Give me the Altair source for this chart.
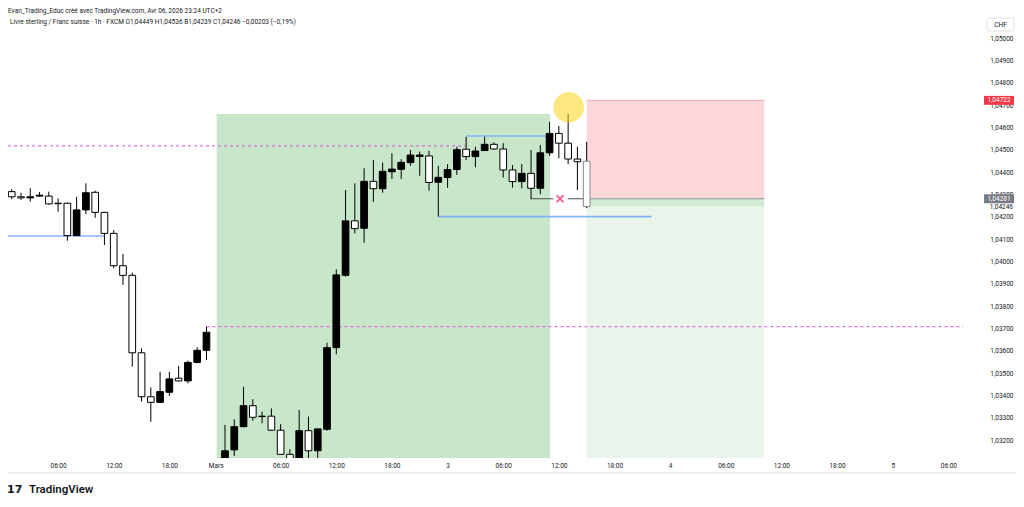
import json
import altair as alt
import pandas as pd

# ---------------- candle data (hourly bars; index 0 = first bar of "Mars") ----------------
bar_index = list(range(-22, 41))
open_prices = [
    1.04313, 1.04290, 1.04285, 1.04293, 1.04293, 1.04261, 1.04261, 1.04116, 1.04231, 1.04310,
    1.04220, 1.04126, 1.03981, 1.03938, 1.03591, 1.03394, 1.03369, 1.03414, 1.03477, 1.03465,
    1.03548, 1.03602,
    1.03050, 1.03030, 1.03156, 1.03260, 1.03354, 1.03305, 1.03307, 1.03244, 1.03136, 1.03090,
    1.03242, 1.03152, 1.03248, 1.03614, 1.03938, 1.04182, 1.04149, 1.04359, 1.04326, 1.04402,
    1.04413, 1.04443, 1.04471, 1.04473, 1.04355, 1.04376, 1.04412, 1.04503, 1.04470, 1.04497,
    1.04525, 1.04504, 1.04410, 1.04358, 1.04395, 1.04328, 1.04487, 1.04574, 1.04530, 1.04459,
    1.04449]
high_prices = [
    1.04324, 1.04308, 1.04328, 1.04311, 1.04313, 1.04283, 1.04264, 1.04290, 1.04350, 1.04317,
    1.04222, 1.04141, 1.04034, 1.03950, 1.03611, 1.03436, 1.03506, 1.03506, 1.03532, 1.03556,
    1.03616, 1.03708,
    1.03110, 1.03268, 1.03293, 1.03439, 1.03383, 1.03327, 1.03342, 1.03271, 1.03159, 1.03335,
    1.03305, 1.03252, 1.03636, 1.03965, 1.04320, 1.04350, 1.04418, 1.04455, 1.04443, 1.04485,
    1.04458, 1.04500, 1.04492, 1.04496, 1.04429, 1.04436, 1.04514, 1.04559, 1.04514, 1.04559,
    1.04534, 1.04530, 1.04432, 1.04436, 1.04500, 1.04522, 1.04626, 1.04607, 1.04661, 1.04514,
    1.04536]
low_prices = [
    1.04279, 1.04276, 1.04268, 1.04290, 1.04255, 1.04223, 1.04093, 1.04114, 1.04213, 1.04196,
    1.04074, 1.03970, 1.03895, 1.03529, 1.03372, 1.03282, 1.03366, 1.03398, 1.03463, 1.03454,
    1.03544, 1.03559,
    1.02990, 1.03010, 1.03129, 1.03257, 1.03287, 1.03275, 1.03242, 1.03134, 1.03060, 1.03070,
    1.03100, 1.03110, 1.03242, 1.03584, 1.03932, 1.04126, 1.04084, 1.04267, 1.04308, 1.04370,
    1.04370, 1.04429, 1.04384, 1.04317, 1.04201, 1.04330, 1.04388, 1.04455, 1.04422, 1.04495,
    1.04500, 1.04376, 1.04331, 1.04328, 1.04279, 1.04301, 1.04473, 1.04462, 1.04437, 1.04320,
    1.04239]
close_prices = [
    1.04290, 1.04285, 1.04290, 1.04297, 1.04258, 1.04259, 1.04116, 1.04231, 1.04308, 1.04220,
    1.04126, 1.03981, 1.03938, 1.03591, 1.03394, 1.03369, 1.03417, 1.03474, 1.03465, 1.03548,
    1.03602, 1.03683,
    1.03030, 1.03152, 1.03260, 1.03354, 1.03302, 1.03307, 1.03244, 1.03136, 1.03090, 1.03242,
    1.03152, 1.03250, 1.03614, 1.03940, 1.04182, 1.04147, 1.04359, 1.04326, 1.04404, 1.04414,
    1.04444, 1.04477, 1.04477, 1.04354, 1.04377, 1.04412, 1.04501, 1.04470, 1.04495, 1.04525,
    1.04504, 1.04410, 1.04358, 1.04395, 1.04328, 1.04487, 1.04574, 1.04530, 1.04459, 1.04447,
    1.04246]

# ---------------- axes ----------------
time_tick_index = [-17, -11, -5, 0, 7, 13, 19, 25, 31, 37, 43, 49, 55, 61, 67, 73, 79]
time_tick_label = ["06:00", "12:00", "18:00", "Mars", "06:00", "12:00", "18:00", "3",
                   "06:00", "12:00", "18:00", "4", "06:00", "12:00", "18:00", "5", "06:00"]
price_ticks = [1.032, 1.033, 1.034, 1.035, 1.036, 1.037, 1.038, 1.039, 1.040, 1.041,
               1.042, 1.043, 1.044, 1.045, 1.046, 1.047, 1.048, 1.049, 1.050]
x_domain = [-22.40, 80.58]
y_domain = [1.031196, 1.051178]

# ---------------- drawings ----------------
zone_x1 = [0.1, 40.0, 40.0, 40.0]
zone_x2 = [36.05, 59.15, 59.15, 59.15]
zone_top = [1.04661, 1.04722, 1.04281, 1.04246]
zone_bottom = [1.0290, 1.04281, 1.04246, 1.0290]
zone_color = ["#c8e6c9", "#fbd7da", "#d3ead4", "#e9f5ea"]

magenta_y = [1.04518, 1.03708]
magenta_x1 = [-22.4, -1.0]
magenta_x2 = [26.9, 80.6]

blue_y = [1.04114, 1.04562, 1.04201]
blue_x1 = [-22.4, 27.0, 24.0]
blue_x2 = [-12.0, 36.05, 47.0]

path_y = [1.04281, 1.04281]
path_x1 = [34.0, 37.95]
path_x2 = [36.4, 39.7]

box_line_y = [1.04281, 1.04722]
box_line_x1 = [40.0, 40.0]
box_line_x2 = [59.15, 59.15]
box_line_color = ["#9598a1", "#f5aab1"]

cross_x = [37.13]
cross_y = [1.04281]
circle_x = [38.06]
circle_y = [1.04691]

axis_tag_price = [1.04722, 1.04281]
axis_tag_color = ["#f23645", "#787b86"]
last_price = [1.04246]

header_text = "Evan_Trading_Educ créé avec TradingView.com, Avr 06, 2026 23:24 UTC+2"
legend_text = ("Livre sterling / Franc suisse · 1h · FXCM  O1,04449  H1,04536  "
               "B1,04239  C1,04246  −0,00203 (−0,19%)")

FONT = "Roboto"
TXT = "#131722"
FS = 6.5

XS = alt.Scale(domain=x_domain, nice=False, zero=False)
YS = alt.Scale(domain=y_domain, nice=False, zero=False)
label_expr_x = "{}[indexof({}, datum.value)]".format(json.dumps(time_tick_label), json.dumps(time_tick_index))
XA = alt.Axis(values=time_tick_index, labelExpr=label_expr_x, grid=False, domain=False,
              ticks=False, tickSize=0, labelPadding=4, labelFontSize=FS, labelColor=TXT,
              labelFont=FONT, labelFlush=False, labelOverlap=False, title=None)
YA = alt.Axis(orient="right", values=price_ticks,
              labelExpr="replace(format(datum.value, '.5f'), '.', ',')",
              grid=False, domain=False, ticks=False, tickSize=0, labelPadding=50,
              labelAlign="right", labelFontSize=FS, labelColor=TXT, labelFont=FONT,
              labelFlush=False, labelOverlap=False, title=None)


def X(f):
    return alt.X(f, type="quantitative", scale=XS, axis=XA, title=None)


def Y(f):
    return alt.Y(f, type="quantitative", scale=YS, axis=YA, title=None)


candles = pd.DataFrame({"i": bar_index, "o": open_prices, "h": high_prices,
                        "l": low_prices, "c": close_prices})
zones = pd.DataFrame({"x1": zone_x1, "x2": zone_x2, "y1": zone_top, "y2": zone_bottom,
                      "col": zone_color})

zone_layer = alt.Chart(zones).mark_rect(clip=True).encode(
    x=X("x1"), x2="x2", y=Y("y1"), y2="y2", fill=alt.Fill("col:N", scale=None))

box_lines = alt.Chart(pd.DataFrame({"x1": box_line_x1, "x2": box_line_x2, "y": box_line_y,
                                    "col": box_line_color})).mark_rule(strokeWidth=1, clip=True).encode(
    x=X("x1"), x2="x2", y=Y("y"), color=alt.Color("col:N", scale=None))

magenta = alt.Chart(pd.DataFrame({"x1": magenta_x1, "x2": magenta_x2, "y": magenta_y})).mark_rule(
    color="#e24fe0", strokeWidth=1, strokeDash=[3, 3], clip=True).encode(
    x=X("x1"), x2="x2", y=Y("y"))

blue = alt.Chart(pd.DataFrame({"x1": blue_x1, "x2": blue_x2, "y": blue_y})).mark_rule(
    color="#82b4f4", strokeWidth=1.6, clip=True).encode(x=X("x1"), x2="x2", y=Y("y"))

path = alt.Chart(pd.DataFrame({"x1": path_x1, "x2": path_x2, "y": path_y})).mark_rule(
    color="#4c4c4c", strokeWidth=1, clip=True).encode(x=X("x1"), x2="x2", y=Y("y"))

wicks = alt.Chart(candles).mark_rule(color="#000000", strokeWidth=1, clip=True).encode(
    x=X("i"), y=Y("l"), y2="h")

bodies = alt.Chart(candles).transform_calculate(
    bx1="datum.i - 0.36", bx2="datum.i + 0.36").mark_rect(strokeWidth=1, clip=True).encode(
    x=X("bx1"), x2="bx2", y=Y("o"), y2="c",
    fill=alt.condition("datum.c >= datum.o", alt.value("#000000"), alt.value("#ffffff")),
    stroke=alt.condition("datum.i == 40", alt.value("#8a8a8a"), alt.value("#000000")))

cross = alt.Chart(pd.DataFrame({"x": cross_x, "y": cross_y})).mark_point(
    shape="M-1,-1L1,1M-1,1L1,-1", filled=False, size=46, strokeWidth=2,
    color="#f0638b", opacity=1).encode(x=X("x"), y=Y("y"))

circle = alt.Chart(pd.DataFrame({"x": circle_x, "y": circle_y})).mark_point(
    shape="circle", filled=True, size=940, color="#fbd31a", opacity=0.55, clip=True).encode(
    x=X("x"), y=Y("y"))

tags = pd.DataFrame({"p": axis_tag_price, "col": axis_tag_color})
tag_rects = alt.Chart(tags).transform_calculate(
    p1="datum.p + 0.0002", p2="datum.p - 0.0002").mark_rect().encode(
    x=alt.value(976), x2=alt.value(1006), y=Y("p1"), y2="p2",
    fill=alt.Fill("col:N", scale=None))
tag_text = alt.Chart(tags).transform_calculate(
    t="replace(format(datum.p, '.5f'), '.', ',')").mark_text(
    font=FONT, fontSize=FS, color="#ffffff", align="center", baseline="middle").encode(
    x=alt.value(991), y=Y("p"), text="t:N")

last_txt = alt.Chart(pd.DataFrame({"p": last_price})).transform_calculate(
    t="replace(format(datum.p, '.5f'), '.', ',')").mark_text(
    font=FONT, fontSize=FS, color=TXT, align="right", baseline="middle").encode(
    x=alt.value(1005), y=Y("p"), text="t:N")

texts = pd.DataFrame({"t": [header_text, legend_text, "CHF", "TradingView", "17"]})
header = alt.Chart(texts).transform_filter(alt.datum.t == header_text).mark_text(
    font=FONT, fontSize=FS, color=TXT, align="left", baseline="top").encode(
    x=alt.value(0), y=alt.value(-4), text="t:N")
legend = alt.Chart(texts).transform_filter(alt.datum.t == legend_text).mark_text(
    font=FONT, fontSize=FS, color=TXT, align="left", baseline="middle").encode(
    x=alt.value(2), y=alt.value(10), text="t:N")
chf_box = alt.Chart(texts).transform_filter(alt.datum.t == "CHF").mark_rect(
    fill="#ffffff", stroke="#e0e3eb", strokeWidth=1, cornerRadius=2).encode(
    x=alt.value(979), x2=alt.value(1006), y=alt.value(6), y2=alt.value(19))
chf = alt.Chart(texts).transform_filter(alt.datum.t == "CHF").mark_text(
    font=FONT, fontSize=FS, color=TXT, align="center", baseline="middle").encode(
    x=alt.value(992.5), y=alt.value(12.5), text="t:N")
logo_word = alt.Chart(texts).transform_filter(alt.datum.t == "TradingView").mark_text(
    font=FONT, fontSize=11.5, fontWeight=600, color="#131722", align="left", baseline="middle").encode(
    x=alt.value(21), y=alt.value(478), text="t:N")
logo_mark = alt.Chart(texts).transform_filter(alt.datum.t == "17").mark_text(
    font="DejaVu Sans", fontSize=11, fontWeight="bold", color="#131722", align="left",
    baseline="middle").encode(x=alt.value(-1), y=alt.value(478), text="t:N")
frame = alt.Chart(texts).transform_filter(alt.datum.t == "CHF").mark_rule(
    color="#e0e3eb", strokeWidth=1).encode(x=alt.value(0), x2=alt.value(1008), y=alt.value(461))

chart = alt.layer(
    zone_layer, box_lines, magenta, blue, path, wicks, bodies, circle, cross,
    tag_rects, tag_text, last_txt, header, legend, chf_box, chf, logo_word, logo_mark, frame
).properties(
    width=955, height=446,
    autosize=alt.AutoSizeParams(type="none"),
    padding={"left": 0, "top": 4, "right": 53, "bottom": 40},
    background="#ffffff",
).configure(font=FONT, view=alt.ViewConfig(stroke=None))

chart.save("out.html", embed_options={"renderer": "svg", "actions": False})
